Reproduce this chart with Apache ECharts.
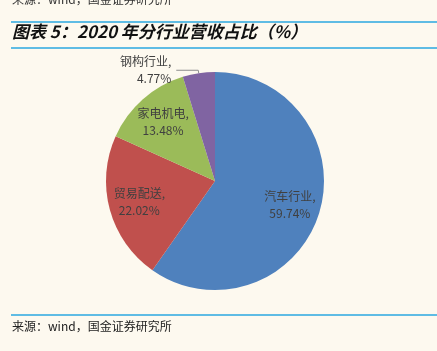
<!DOCTYPE html>
<html>
<head>
<meta charset="utf-8">
<script src="https://cdn.jsdelivr.net/npm/echarts@6/dist/echarts.min.js"></script>
<style>
  html, body { margin: 0; padding: 0; background: #fdf9ef; }
  #chart { width: 437px; height: 351px; }
</style>
</head>
<body>
<div id="chart"></div>
<script>
// 2020 年分行业营收占比
const categories = ['汽车行业', '贸易配送', '家电机电', '钢构行业']
const shares = [59.74, 22.02, 13.48, 4.77]
const sliceColors = ['#4f81bd', '#c0504d', '#9bbb59', '#8064a2']

const centerX = 215
const centerY = 181
const pieRadius = 109
const font = '"Noto Sans CJK SC", "Noto Sans", sans-serif'

const chart = echarts.init(document.getElementById('chart'))

const option = {
  backgroundColor: '#fdf9ef',
  animation: false,
  graphic: [
    {
      type: 'text', left: 12, top: -7,
      style: { text: '来源：wind，国金证券研究所', fill: '#333', font: '12px ' + font }
    },
    {
      type: 'line', shape: { x1: 11, y1: 22, x2: 437, y2: 22 },
      style: { stroke: '#2aa7e1', lineWidth: 1.5 }
    },
    {
      type: 'text', left: 12, top: 23,
      style: {
        text: '图表 5：2020 年分行业营收占比（%）',
        fill: '#111',
        font: 'italic bold 17px ' + font
      }
    },
    {
      type: 'line', shape: { x1: 11, y1: 48, x2: 437, y2: 48 },
      style: { stroke: '#2aa7e1', lineWidth: 1.5 }
    },
    {
      type: 'line', shape: { x1: 11, y1: 315, x2: 437, y2: 315 },
      style: { stroke: '#2aa7e1', lineWidth: 1.5 }
    },
    {
      type: 'text', left: 12, top: 320,
      style: { text: '来源：wind，国金证券研究所', fill: '#222', font: '12px ' + font }
    }
  ],
  series: [
    {
      type: 'pie',
      center: [centerX, centerY],
      radius: pieRadius,
      startAngle: 90,
      clockwise: true,
      data: categories.map((name, i) => ({
        name,
        value: shares[i],
        itemStyle: { color: sliceColors[i] },
        label: i === 3
          ? { position: 'outside' }
          : { position: 'inside' },
        labelLine: i === 3
          ? { show: true, length: 3, length2: 22, lineStyle: { color: '#8c8c8c', width: 1 } }
          : { show: false }
      })),
      label: {
        show: true,
        formatter: '{b},\n{c}%',
        fontFamily: font,
        fontSize: 12,
        lineHeight: 17,
        align: 'center',
        color: '#404040'
      },
      labelLayout: (params) => {
        if (params.dataIndex === 3) return {}
        const r = params.labelRect
        const cx = r.x + r.width / 2
        const cy = r.y + r.height / 2
        const dx = cx - centerX
        const dy = cy - centerY
        const dist = Math.sqrt(dx * dx + dy * dy) || 1
        const k = (pieRadius * 0.72) / dist - 1
        return { dx: dx * k, dy: dy * k }
      },
      itemStyle: { borderColor: 'transparent' },
      emphasis: { disabled: true }
    }
  ]
}

chart.setOption(option)
</script>
</body>
</html>
